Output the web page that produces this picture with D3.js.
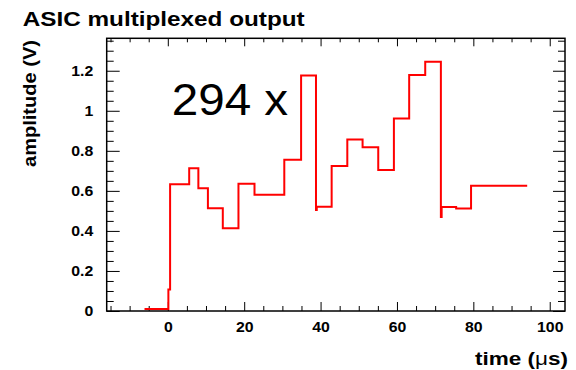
<!DOCTYPE html>
<html>
<head>
<meta charset="utf-8">
<script src="https://cdn.jsdelivr.net/npm/d3@7"></script>
<style>
  html, body { margin: 0; padding: 0; background: #fff; }
  svg { display: block; }
  text { font-family: "Liberation Sans", Arial, Helvetica, sans-serif; fill: #000; }
</style>
</head>
<body>
<svg id="chart" width="576" height="370"></svg>
<script>
// Multiplexed ASIC output: a staircase of held amplitudes, one level per channel.
// Each entry starts a new level at the given time (µs); the last entry ends the trace.
const stepTimes  = [-6.1, 0.15, 0.6, 5.6, 8.0, 10.5, 14.4, 18.5, 22.7, 30.5, 34.9,
                    38.8, 39.0, 42.9, 47.0, 51.0, 55.1, 59.2, 63.2, 67.4, 71.5, 71.7,
                    75.5, 79.4, 94.1];
const stepLevels = [0.01, 0.108, 0.633, 0.713, 0.613, 0.513, 0.413, 0.635, 0.580, 0.756, 1.176,
                    0.505, 0.521, 0.724, 0.857, 0.818, 0.704, 0.962, 1.179, 1.245, 0.47, 0.519,
                    0.512, 0.626, 0.626];

// Axis ranges and ticks
const xRange = [-16, 104];
const yRange = [0, 1.362];
const xMajorTicks = [0, 20, 40, 60, 80, 100];
const xMinorTicks = [-15, -10, -5, 5, 10, 15, 25, 30, 35, 45, 50, 55, 65, 70, 75, 85, 90, 95];
const yMajorTicks = [0, 0.2, 0.4, 0.6, 0.8, 1.0, 1.2];
const yMinorTicks = [0.05, 0.1, 0.15, 0.25, 0.3, 0.35, 0.45, 0.5, 0.55, 0.65, 0.7, 0.75,
                     0.85, 0.9, 0.95, 1.05, 1.1, 1.15, 1.25, 1.3, 1.35];

const titleText = "ASIC multiplexed output";
const gainText = "294 x";

const svg = d3.select("#chart");
const frame = { left: 106.7, right: 565, top: 38.3, bottom: 311 };

const x = d3.scaleLinear().domain(xRange).range([frame.left, frame.right]);
const y = d3.scaleLinear().domain(yRange).range([frame.bottom, frame.top]);

// Stretch a text element horizontally to a target width (or by a factor).
function fitText(sel, opts) {
  sel.each(function () {
    const w = this.getComputedTextLength();
    const target = opts.width != null ? opts.width : w * opts.factor;
    d3.select(this).attr("textLength", target).attr("lengthAdjust", "spacingAndGlyphs");
  });
}

// Axes: ticks drawn inward on all four sides, labels on bottom and left only
function addAxis(axisFn, ticks, size, translate, labels) {
  const ax = axisFn.tickValues(ticks).tickSizeInner(-size).tickSizeOuter(0);
  if (!labels) ax.tickFormat("");
  const g = svg.append("g").attr("transform", translate).call(ax);
  g.select(".domain").remove();
  g.selectAll(".tick line").attr("stroke", "#000").attr("stroke-width", 1);
  return g;
}

const fmtY = v => (v === 0 ? "0" : v === 1 ? "1" : d3.format(".1f")(v));

// bottom
const gxB = addAxis(d3.axisBottom(x).tickPadding(11).tickFormat(d3.format("d")), xMajorTicks, 9,
  `translate(0,${frame.bottom})`, true);
addAxis(d3.axisBottom(x), xMinorTicks, 5, `translate(0,${frame.bottom})`, false);
// top
addAxis(d3.axisTop(x), xMajorTicks, 8, `translate(0,${frame.top})`, false);
addAxis(d3.axisTop(x), xMinorTicks, 4, `translate(0,${frame.top})`, false);
// left
const gyL = addAxis(d3.axisLeft(y).tickPadding(13.4).tickFormat(fmtY), yMajorTicks, 13,
  `translate(${frame.left},0)`, true);
addAxis(d3.axisLeft(y), yMinorTicks, 7, `translate(${frame.left},0)`, false);
// right
addAxis(d3.axisRight(y), yMajorTicks, 12, `translate(${frame.right},0)`, false);
addAxis(d3.axisRight(y), yMinorTicks, 7, `translate(${frame.right},0)`, false);

[gxB, gyL].forEach(g => g.selectAll(".tick text")
  .style("font-family", '"Liberation Sans", Arial, sans-serif')
  .attr("font-size", 14).attr("font-weight", "bold").attr("fill", "#000"));
fitText(gxB.selectAll(".tick text"), { factor: 1.13 });
fitText(gyL.selectAll(".tick text"), { factor: 1.13 });

// the trace
const points = stepTimes.map((t, i) => [t, stepLevels[i]]);
const line = d3.line().x(d => x(d[0])).y(d => y(d[1])).curve(d3.curveStepAfter);
svg.append("path")
  .datum(points)
  .attr("d", line)
  .attr("fill", "none")
  .attr("stroke", "#ff0000")
  .attr("stroke-width", 2)
  .attr("stroke-linejoin", "miter");

// frame
svg.append("rect")
  .attr("x", frame.left).attr("y", frame.top)
  .attr("width", frame.right - frame.left).attr("height", frame.bottom - frame.top)
  .attr("fill", "none").attr("stroke", "#000").attr("stroke-width", 1.5);

// title
svg.append("text")
  .attr("x", 22.7).attr("y", 26)
  .attr("font-size", 21).attr("font-weight", "bold")
  .text(titleText)
  .call(fitText, { width: 282 });

// gain annotation
svg.append("text")
  .attr("x", 171.7).attr("y", 115)
  .attr("font-size", 44)
  .text(gainText)
  .call(fitText, { width: 116.5 });

// x title
const xt = svg.append("text")
  .attr("x", 568).attr("y", 365)
  .attr("text-anchor", "end")
  .attr("font-size", 18).attr("font-weight", "bold");
xt.append("tspan").text("time (");
xt.append("tspan").attr("font-weight", "normal").text("\u03bc");
xt.append("tspan").text("s)");
fitText(xt, { width: 93 });

// y title
svg.append("text")
  .attr("transform", "translate(36,40) rotate(-90)")
  .attr("text-anchor", "end")
  .attr("font-size", 18).attr("font-weight", "bold")
  .text("amplitude (V)")
  .call(fitText, { width: 127 });
</script>
</body>
</html>
